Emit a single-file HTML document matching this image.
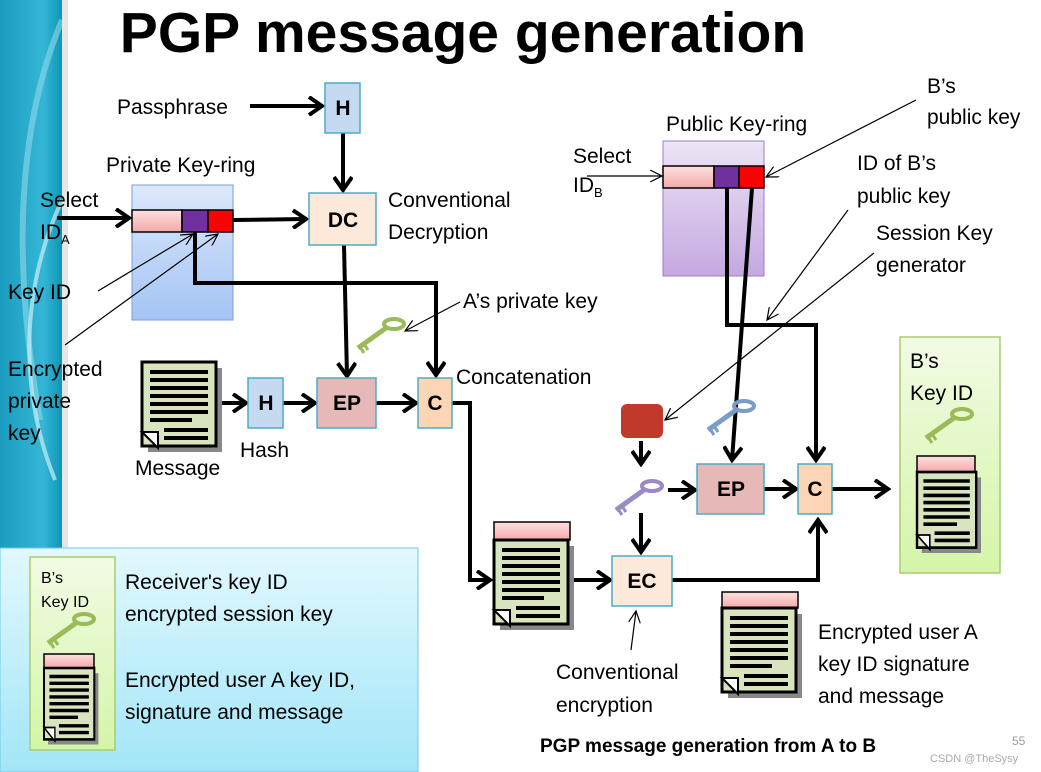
<!DOCTYPE html>
<html><head><meta charset="utf-8"><style>
html,body{margin:0;padding:0;background:#fff;}
svg{display:block;font-family:"Liberation Sans",sans-serif;}
</style></head><body>
<svg width="1041" height="772" viewBox="0 0 1041 772" xmlns="http://www.w3.org/2000/svg">
<defs>
<linearGradient id="teal" x1="0" y1="0" x2="1" y2="0"><stop offset="0" stop-color="#1a9cc0"/><stop offset="0.7" stop-color="#35b6d6"/><stop offset="1" stop-color="#0e95b5"/></linearGradient>
<linearGradient id="blu" x1="0" y1="0" x2="0" y2="1"><stop offset="0" stop-color="#dde8fb"/><stop offset="1" stop-color="#a4c4f4"/></linearGradient>
<linearGradient id="pur" x1="0" y1="0" x2="0" y2="1"><stop offset="0" stop-color="#ece4f6"/><stop offset="1" stop-color="#c4a8e0"/></linearGradient>
<linearGradient id="grn" x1="0" y1="0" x2="0" y2="1"><stop offset="0" stop-color="#f2fbe4"/><stop offset="1" stop-color="#d4f5a8"/></linearGradient>
<linearGradient id="cyan" x1="0" y1="0" x2="0" y2="1"><stop offset="0" stop-color="#e2f8fe"/><stop offset="1" stop-color="#a2e6f8"/></linearGradient>
<linearGradient id="pink" x1="0" y1="0" x2="0" y2="1"><stop offset="0" stop-color="#fde0e0"/><stop offset="1" stop-color="#f4a8a8"/></linearGradient>
<marker id="a" markerWidth="18" markerHeight="20" refX="15" refY="10" orient="auto" markerUnits="userSpaceOnUse"><path d="M2,1 L15,10 L2,19" fill="none" stroke="#000" stroke-width="4"/></marker>
<marker id="t" markerWidth="14" markerHeight="12" refX="12" refY="6" orient="auto" markerUnits="userSpaceOnUse"><path d="M0,0 L12,6 L0,12" fill="none" stroke="#000" stroke-width="1.2"/></marker>
<g id="doc">
<rect x="6" y="6" width="74" height="84" fill="#888"/>
<rect x="0" y="0" width="74" height="84" fill="#d7e4bd" stroke="#000" stroke-width="3"/>
<path d="M0,70 L16,86 L16,70 Z" fill="#fff" stroke="#000" stroke-width="2"/>
<g stroke="#000" stroke-width="4"><line x1="8" y1="10" x2="66" y2="10"/><line x1="8" y1="18" x2="66" y2="18"/><line x1="8" y1="26" x2="66" y2="26"/><line x1="8" y1="34" x2="66" y2="34"/><line x1="8" y1="42" x2="66" y2="42"/><line x1="8" y1="50" x2="66" y2="50"/><line x1="8" y1="58" x2="50" y2="58"/><line x1="22" y1="68" x2="66" y2="68"/><line x1="22" y1="76" x2="66" y2="76"/></g>
</g>
<g id="key"><ellipse cx="22" cy="-6" rx="10" ry="5" fill="none" stroke-width="4"/><line x1="14" y1="-2" x2="-14" y2="18" stroke-width="5"/><line x1="-8" y1="14" x2="-4" y2="20" stroke-width="3"/><line x1="-12" y1="17" x2="-8" y2="23" stroke-width="3"/></g>
</defs>

<rect x="0" y="0" width="62" height="548" fill="url(#teal)"/>
<path d="M62,20 C20,120 10,250 40,420" stroke="#8fd8ea" stroke-width="6" fill="none" opacity="0.6"/>
<path d="M62,200 C25,280 15,380 55,480" stroke="#c8eef7" stroke-width="4" fill="none" opacity="0.7"/>
<rect x="62" y="0" width="6" height="548" fill="#e6e6e6"/>

<text x="463" y="52" font-size="57" font-weight="bold" text-anchor="middle">PGP message generation</text>

<g font-size="21">
<text x="117" y="114">Passphrase</text>
<text x="106" y="172">Private Key-ring</text>
<text x="40" y="207">Select</text>
<text x="40" y="239">ID<tspan font-size="13" dy="5">A</tspan></text>
<text x="388" y="207">Conventional</text>
<text x="388" y="239">Decryption</text>
<text x="8" y="299">Key ID</text>
<text x="8" y="376">Encrypted</text>
<text x="8" y="408">private</text>
<text x="8" y="440">key</text>
<text x="463" y="308">A’s private key</text>
<text x="456" y="384">Concatenation</text>
<text x="240" y="457">Hash</text>
<text x="135" y="475">Message</text>
<text x="666" y="131">Public Key-ring</text>
<text x="573" y="163">Select</text>
<text x="573" y="192">ID<tspan font-size="13" dy="5">B</tspan></text>
<text x="927" y="93">B’s</text>
<text x="927" y="124">public key</text>
<text x="857" y="170">ID of B’s</text>
<text x="857" y="203">public key</text>
<text x="876" y="240">Session Key</text>
<text x="876" y="272">generator</text>
<text x="818" y="639">Encrypted user A</text>
<text x="818" y="671">key ID signature</text>
<text x="818" y="703">and message</text>
<text x="556" y="679">Conventional</text>
<text x="556" y="712">encryption</text>
</g>
<text x="540" y="752" font-size="19" font-weight="bold">PGP message generation from  A to B</text>
<text x="1012" y="745" font-size="12" fill="#999">55</text>
<text x="930" y="762" font-size="11" fill="#aaa">CSDN @TheSysy</text>

<!-- private key ring -->
<rect x="132" y="185" width="101" height="135" fill="url(#blu)" stroke="#7a9fd6"/>
<rect x="132" y="210" width="50" height="22" fill="url(#pink)" stroke="#000" stroke-width="1.5"/>
<rect x="182" y="210" width="26" height="22" fill="#7030a0" stroke="#000" stroke-width="1.5"/>
<rect x="208" y="210" width="25" height="22" fill="#f00" stroke="#000" stroke-width="1.5"/>

<!-- public key ring -->
<rect x="663" y="141" width="101" height="135" fill="url(#pur)" stroke="#9b7fc6"/>
<rect x="663" y="166" width="51" height="22" fill="url(#pink)" stroke="#000" stroke-width="1.5"/>
<rect x="714" y="166" width="25" height="22" fill="#7030a0" stroke="#000" stroke-width="1.5"/>
<rect x="739" y="166" width="25" height="22" fill="#f00" stroke="#000" stroke-width="1.5"/>

<!-- thick connectors -->
<g stroke="#000" stroke-width="4" fill="none">
<line x1="250" y1="106" x2="322" y2="106" marker-end="url(#a)"/>
<line x1="343" y1="133" x2="343" y2="190" marker-end="url(#a)"/>
<line x1="57" y1="218" x2="129" y2="218" marker-end="url(#a)"/>
<line x1="233" y1="220" x2="306" y2="219" marker-end="url(#a)"/>
<polyline points="195,232 195,283 436,283 436,375" marker-end="url(#a)"/>
<line x1="344" y1="245" x2="347" y2="376" marker-end="url(#a)"/>
<line x1="222" y1="403" x2="246" y2="403" marker-end="url(#a)"/>
<line x1="283" y1="403" x2="315" y2="403" marker-end="url(#a)"/>
<line x1="376" y1="403" x2="416" y2="403" marker-end="url(#a)"/>
<polyline points="452,403 470,403 470,580 490,580" marker-end="url(#a)"/>
<line x1="574" y1="580" x2="610" y2="580" marker-end="url(#a)"/>
<polyline points="672,580 818,580 818,520" marker-end="url(#a)"/>
<polyline points="727,188 727,325 816,325 816,460" marker-end="url(#a)"/>
<line x1="752" y1="188" x2="732" y2="460" marker-end="url(#a)"/>
<line x1="641" y1="441" x2="641" y2="464" marker-end="url(#a)"/>
<line x1="668" y1="490" x2="695" y2="490" marker-end="url(#a)"/>
<line x1="641" y1="513" x2="641" y2="552" marker-end="url(#a)"/>
<line x1="764" y1="489" x2="796" y2="489" marker-end="url(#a)"/>
<line x1="832" y1="489" x2="888" y2="489" marker-end="url(#a)"/>
</g>

<!-- thin pointers -->
<g stroke="#000" stroke-width="1.2" fill="none">
<line x1="98" y1="291" x2="193" y2="234" marker-end="url(#t)"/>
<line x1="65" y1="345" x2="218" y2="234" marker-end="url(#t)"/>
<line x1="460" y1="302" x2="405" y2="331" marker-end="url(#t)"/>
<line x1="587" y1="176" x2="662" y2="176" marker-end="url(#t)"/>
<line x1="916" y1="100" x2="766" y2="177" marker-end="url(#t)"/>
<line x1="848" y1="210" x2="767" y2="320" marker-end="url(#t)"/>
<line x1="874" y1="253" x2="665" y2="420" marker-end="url(#t)"/>
<line x1="631" y1="650" x2="636" y2="611" marker-end="url(#t)"/>
</g>

<!-- boxes -->
<g stroke="#4bacc6" stroke-width="1.5">
<rect x="325" y="83" width="35" height="50" fill="#c5d9f1"/>
<rect x="309" y="193" width="67" height="52" fill="#fde9d9"/>
<rect x="248" y="378" width="35" height="50" fill="#c5d9f1"/>
<rect x="317" y="378" width="59" height="50" fill="#e6b8b7"/>
<rect x="418" y="378" width="34" height="50" fill="#fcd5b4"/>
<rect x="697" y="464" width="67" height="50" fill="#e6b8b7"/>
<rect x="798" y="464" width="34" height="50" fill="#fcd5b4"/>
<rect x="612" y="556" width="60" height="50" fill="#fde9d9"/>
</g>
<g font-weight="bold" font-size="21" text-anchor="middle">
<text x="343" y="115">H</text><text x="343" y="227">DC</text><text x="266" y="410">H</text>
<text x="347" y="410">EP</text><text x="435" y="410">C</text><text x="731" y="496">EP</text>
<text x="815" y="496">C</text><text x="642" y="588">EC</text>
</g>

<!-- keys and red block -->
<use href="#key" x="372" y="330" stroke="#9bbb59"/>
<use href="#key" x="722" y="412" stroke="#7a9cc6"/>
<use href="#key" x="630" y="492" stroke="#9b8ac4"/>
<rect x="621" y="404" width="42" height="34" rx="6" fill="#c0392b"/>

<!-- docs -->
<use href="#doc" x="142" y="362"/>
<rect x="494" y="522" width="76" height="18" fill="url(#pink)" stroke="#000" stroke-width="1.5"/>
<use href="#doc" x="494" y="540"/>
<rect x="722" y="592" width="76" height="16" fill="url(#pink)" stroke="#000" stroke-width="1.5"/>
<use href="#doc" x="722" y="608"/>

<!-- B's key ID box -->
<rect x="900" y="337" width="100" height="236" fill="url(#grn)" stroke="#a9cc6e" stroke-width="1.5"/>
<text x="910" y="368" font-size="21">B’s</text>
<text x="910" y="400" font-size="21">Key ID</text>
<use href="#key" x="940" y="420" stroke="#9bbb59"/>
<rect x="917" y="456" width="58" height="16" fill="url(#pink)" stroke="#000" stroke-width="1.5"/>
<g transform="translate(917,472) scale(0.8,0.9)"><use href="#doc"/></g>

<!-- bottom legend -->
<rect x="0" y="548" width="418" height="224" fill="url(#cyan)" stroke="#6fc9e4"/>
<rect x="30" y="557" width="85" height="193" fill="url(#grn)" stroke="#a9cc6e" stroke-width="1.5"/>
<text x="41" y="583" font-size="16">B’s</text>
<text x="41" y="607" font-size="16">Key ID</text>
<use href="#key" x="62" y="625" stroke="#9bbb59"/>
<rect x="44" y="654" width="50" height="14" fill="url(#pink)" stroke="#000" stroke-width="1.5"/>
<g transform="translate(44,668) scale(0.68,0.85)"><use href="#doc"/></g>
<g font-size="21">
<text x="125" y="589">Receiver's key ID</text>
<text x="125" y="621">encrypted session key</text>
<text x="125" y="687">Encrypted user A key ID,</text>
<text x="125" y="719">signature and message</text>
</g>
</svg>
</body></html>
